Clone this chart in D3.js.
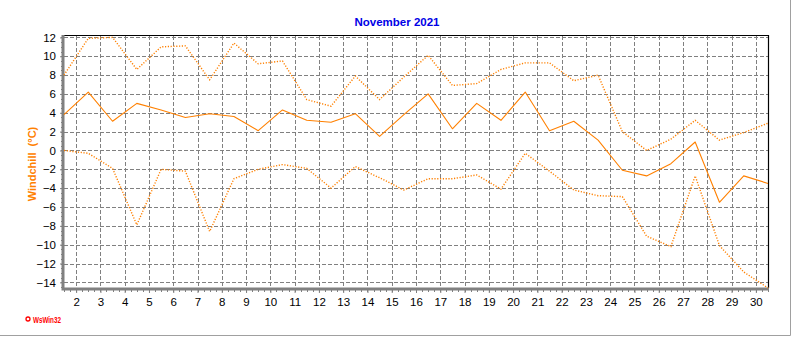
<!DOCTYPE html>
<html>
<head>
<meta charset="utf-8">
<script src="https://cdn.jsdelivr.net/npm/d3@7"></script>
<style>
  body { margin: 0; background: #fff; }
  text { font-family: "Liberation Sans", Arial, sans-serif; }
</style>
</head>
<body>
<div id="chart-area"></div>
<script>
let width = 792,
    height = 337;

const margin = ({top: 36, right: 24, bottom: 49, left: 64});

// days of the month (points are drawn at noon of each day)
const days = [1, 2, 3, 4, 5, 6, 7, 8, 9, 10, 11, 12, 13, 14, 15,
              16, 17, 18, 19, 20, 21, 22, 23, 24, 25, 26, 27, 28, 29, 30];

// windchill, daily max / mean / min (°C)
const chillMax = [8.0, 11.9, 12.0, 8.6, 11.0, 11.1, 7.5, 11.4, 9.2, 9.5,
                  5.4, 4.7, 7.9, 5.4, 7.8, 10.1, 6.9, 7.1, 8.6, 9.3,
                  9.3, 7.4, 8.0, 2.0, 0.0, 1.2, 3.2, 1.1, 1.9, 2.9];
const chillAvg = [3.8, 6.2, 3.1, 5.0, 4.3, 3.5, 3.9, 3.6, 2.1, 4.3,
                  3.2, 3.0, 3.9, 1.5, 3.8, 6.0, 2.3, 5.0, 3.2, 6.2,
                  2.1, 3.1, 1.1, -2.1, -2.7, -1.4, 0.9, -5.5, -2.7, -3.5];
const chillMin = [0.0, -0.3, -1.9, -7.9, -2.0, -2.2, -8.6, -3.0, -2.0, -1.5,
                  -1.9, -4.0, -1.7, -2.9, -4.2, -3.0, -3.0, -2.6, -4.1, -0.3,
                  -2.2, -4.2, -4.8, -4.9, -9.1, -10.2, -2.7, -10.1, -12.9, -14.6];

const xTicks = [2, 3, 4, 5, 6, 7, 8, 9, 10, 11, 12, 13, 14, 15, 16,
                17, 18, 19, 20, 21, 22, 23, 24, 25, 26, 27, 28, 29, 30];
const yTicks = [-14, -12, -10, -8, -6, -4, -2, 0, 2, 4, 6, 8, 10, 12];

const orange = "#ff8000";
const gridGrey = "#808080";

const svg = d3.select("#chart-area")
  .append("svg")
  .attr("width", width)
  .attr("height", height);

let x = d3.scaleLinear()
    .domain([1.5, 30.5])
    .range([margin.left, width - margin.right]);
let y = d3.scaleLinear()
    .domain([-14.6, 12.15])
    .range([height - margin.bottom, margin.top]);

// outer frame (grey right / bottom edge)
svg.append("path")
  .attr("d", `M${width - 1.5},0V${height - 1.5}H0`)
  .attr("fill", "none")
  .attr("stroke", "#a0a0a0")
  .attr("stroke-width", 1);

// grid
const grid = svg.append("g")
  .attr("stroke", gridGrey)
  .attr("stroke-dasharray", "3.5,2.5")
  .attr("shape-rendering", "crispEdges");
grid.selectAll("line.h")
  .data(yTicks)
  .enter().append("line")
  .attr("x1", margin.left)
  .attr("x2", width - margin.right)
  .attr("y1", d => Math.round(y(d)) + 0.5)
  .attr("y2", d => Math.round(y(d)) + 0.5);
grid.selectAll("line.v")
  .data(xTicks)
  .enter().append("line")
  .attr("y1", margin.top)
  .attr("y2", height - margin.bottom)
  .attr("x1", d => Math.round(x(d)) + 0.5)
  .attr("x2", d => Math.round(x(d)) + 0.5);

// top and right border
svg.append("path")
  .attr("d", `M${margin.left},${margin.top - 0.5}H${width - margin.right + 0.5}V${height - margin.bottom}`)
  .attr("fill", "none")
  .attr("stroke", "black")
  .attr("stroke-width", 1.2);

// axes
const xMinor = d3.range(1.5, 30.51, 0.25);
const yMinor = d3.range(-14.5, 12.01, 0.5);

xAxis = g => g
  .attr("transform", `translate(0,${height - margin.bottom})`)
  .call(d3.axisBottom(x).tickValues(xTicks).tickSize(5).tickPadding(5).tickFormat(d3.format("d")))
  .call(g => g.select(".domain").remove())
  .call(g => g.selectAll(".tick line").attr("stroke", gridGrey))
  .call(g => g.selectAll(".tick text")
      .attr("fill", "black")
      .attr("font-size", 11.5)
      .attr("font-family", "Liberation Sans, Arial, sans-serif"));

yAxis = g => g
  .attr("transform", `translate(${margin.left},0)`)
  .call(d3.axisLeft(y).tickValues(yTicks).tickSize(4).tickPadding(4).tickFormat(d3.format("d")))
  .call(g => g.select(".domain").remove())
  .call(g => g.selectAll(".tick line").attr("stroke", gridGrey))
  .call(g => g.selectAll(".tick text")
      .attr("fill", "black")
      .attr("font-size", 11.5)
      .attr("font-family", "Liberation Sans, Arial, sans-serif"));

svg.append("g").call(xAxis);
svg.append("g").call(yAxis);

// minor ticks
svg.append("g")
  .attr("stroke", gridGrey)
  .attr("shape-rendering", "crispEdges")
  .selectAll("line")
  .data(xMinor)
  .enter().append("line")
  .attr("x1", d => Math.round(x(d)) + 0.5)
  .attr("x2", d => Math.round(x(d)) + 0.5)
  .attr("y1", height - margin.bottom)
  .attr("y2", height - margin.bottom + 4);
svg.append("g")
  .attr("stroke", gridGrey)
  .attr("shape-rendering", "crispEdges")
  .selectAll("line")
  .data(yMinor)
  .enter().append("line")
  .attr("y1", d => Math.round(y(d)) + 0.5)
  .attr("y2", d => Math.round(y(d)) + 0.5)
  .attr("x1", margin.left - 3)
  .attr("x2", margin.left);

// thick grey axis lines
svg.append("path")
  .attr("d", `M${margin.left - 1},${margin.top - 1}V${height - margin.bottom + 1}H${width - margin.right + 1}`)
  .attr("fill", "none")
  .attr("stroke", gridGrey)
  .attr("stroke-width", 3);

// lines
const line = vals => d3.line()
  .x((d, i) => x(days[i] + 0.5))
  .y(d => y(d))(vals);

svg.append("path")
  .attr("d", line(chillMax))
  .attr("fill", "none")
  .attr("stroke", orange)
  .attr("stroke-width", 1.4)
  .attr("stroke-dasharray", "1.2,1.6");
svg.append("path")
  .attr("d", line(chillMin))
  .attr("fill", "none")
  .attr("stroke", orange)
  .attr("stroke-width", 1.4)
  .attr("stroke-dasharray", "1.2,1.6");
svg.append("path")
  .attr("d", line(chillAvg))
  .attr("fill", "none")
  .attr("stroke", orange)
  .attr("stroke-width", 1.1)
  .attr("stroke-linejoin", "round");

// title
svg.append("text")
  .attr("x", 397)
  .attr("y", 26)
  .attr("text-anchor", "middle")
  .attr("font-weight", "bold")
  .attr("font-size", 11.5)
  .attr("fill", "#0000e6")
  .text("November 2021");

// y label
svg.append("text")
  .attr("transform", "translate(36,164) rotate(-90)")
  .attr("text-anchor", "middle")
  .attr("font-weight", "bold")
  .attr("font-size", 11)
  .attr("fill", orange)
  .attr("xml:space", "preserve")
  .style("white-space", "pre")
  .text("Windchill  (°C)");

// WsWin32 mark
svg.append("circle")
  .attr("cx", 28)
  .attr("cy", 319)
  .attr("r", 2)
  .attr("fill", "none")
  .attr("stroke", "red")
  .attr("stroke-width", 1.3);
svg.append("text")
  .attr("x", 33)
  .attr("y", 323)
  .attr("font-size", 9.5)
  .attr("font-weight", "bold")
  .attr("fill", "red")
  .attr("textLength", 28)
  .attr("lengthAdjust", "spacingAndGlyphs")
  .text("WsWin32");
</script>
</body>
</html>
